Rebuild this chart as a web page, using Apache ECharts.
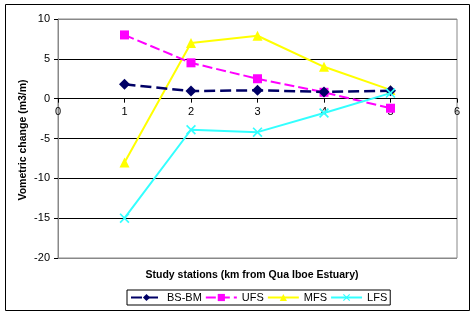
<!DOCTYPE html>
<html><head><meta charset="utf-8">
<script src="https://cdn.jsdelivr.net/npm/echarts@6/dist/echarts.min.js"></script>
<style>html,body{margin:0;padding:0;background:#fff}#c{width:475px;height:315px}</style>
</head><body><div id="c"></div>
<script>
const stations = [1, 2, 3, 4, 5];
const bsbm = [1.8, 0.95, 1.05, 0.85, 1.0];
const ufs = [8.0, 4.5, 2.5, 0.8, -1.2];
const mfs = [-8.0, 7.0, 7.9, 4.0, 1.1];
const lfs = [-15.0, -3.9, -4.2, -1.8, 0.7];
const xTicks = [0, 1, 2, 3, 4, 5, 6];
const yTicks = [-20, -15, -10, -5, 0, 5, 10];

const pair = arr => stations.map((s, i) => [s, arr[i]]);
const xMark = 'path://M0,1.2 L1.2,0 L10,8.8 L8.8,10 Z M8.8,0 L10,1.2 L1.2,10 L0,8.8 Z';
const font = 'Liberation Sans, Arial, sans-serif';

const gridTop = 19, gridBottom = 57, H = 315;
const plotH = H - gridTop - gridBottom;
const yMin = yTicks[0], yMax = yTicks[yTicks.length - 1];
const zeroOffset = plotH * (0 - yMin) / (yMax - yMin);

const chart = echarts.init(document.getElementById('c'), null, {renderer: 'canvas'});
chart.setOption({
  animation: false,
  textStyle: {fontFamily: font, color: '#000'},
  grid: {left: 58, right: 18, top: gridTop, bottom: gridBottom, show: true, borderColor: '#888', borderWidth: 1},
  xAxis: {
    type: 'value', min: xTicks[0], max: xTicks[xTicks.length - 1], interval: 1,
    position: 'bottom', offset: -zeroOffset,
    axisLine: {onZero: false, lineStyle: {color: '#000', width: 1}},
    axisTick: {show: true, length: 4, lineStyle: {color: '#000'}},
    axisLabel: {fontSize: 11, color: '#000', margin: 8, fontFamily: font},
    splitLine: {show: false}
  },
  yAxis: {
    type: 'value', min: yMin, max: yMax, interval: 5,
    axisLine: {show: true, onZero: false, lineStyle: {color: '#888', width: 1}},
    axisTick: {show: true, length: 4, lineStyle: {color: '#000'}},
    axisLabel: {fontSize: 11, color: '#000', margin: 8, fontFamily: font},
    splitLine: {show: true, lineStyle: {color: ['#888', '#000', '#000', '#000', '#000', '#000', '#888'], width: 1}}
  },
  legend: {
    left: 127, top: 290, width: 420,
    itemGap: 3, itemWidth: 31, itemHeight: 9,
    padding: [2, 3, 2, 3],
    borderColor: '#000', borderWidth: 1,
    textStyle: {fontSize: 11, color: '#000', fontFamily: font},
    data: ['BS-BM', 'UFS', 'MFS', 'LFS']
  },
  graphic: [
    {type: 'rect', shape: {x: 5.5, y: 4.5, width: 464, height: 306}, style: {fill: 'none', stroke: '#000', lineWidth: 1}, silent: true},
    {type: 'text', x: 252, y: 275, style: {text: 'Study stations (km from Qua Iboe Estuary)', x: 0, y: 0, textAlign: 'center', textVerticalAlign: 'middle', font: 'bold 10.5px ' + font, fill: '#000'}},
    {type: 'text', rotation: Math.PI / 2, x: 23, y: 140, style: {text: 'Vometric change (m3/m)', x: 0, y: 0, textAlign: 'center', textVerticalAlign: 'middle', font: 'bold 10.5px ' + font, fill: '#000'}}
  ],
  series: [
    {name: 'BS-BM', type: 'line', data: pair(bsbm), symbol: 'diamond', symbolSize: 11,
     lineStyle: {color: '#000066', width: 2.5, type: [11, 5]}, itemStyle: {color: '#000066'}, z: 5},
    {name: 'UFS', type: 'line', data: pair(ufs), symbol: 'rect', symbolSize: 9,
     lineStyle: {color: '#ff00ff', width: 2, type: [10, 4]}, itemStyle: {color: '#ff00ff'}, z: 4},
    {name: 'MFS', type: 'line', data: pair(mfs), symbol: 'triangle', symbolSize: 10,
     lineStyle: {color: '#ffff00', width: 2}, itemStyle: {color: '#ffff00'}, z: 3},
    {name: 'LFS', type: 'line', data: pair(lfs), symbol: xMark, symbolSize: 10,
     lineStyle: {color: '#33ffff', width: 2}, itemStyle: {color: '#33ffff'}, z: 6}
  ]
});
</script></body></html>
